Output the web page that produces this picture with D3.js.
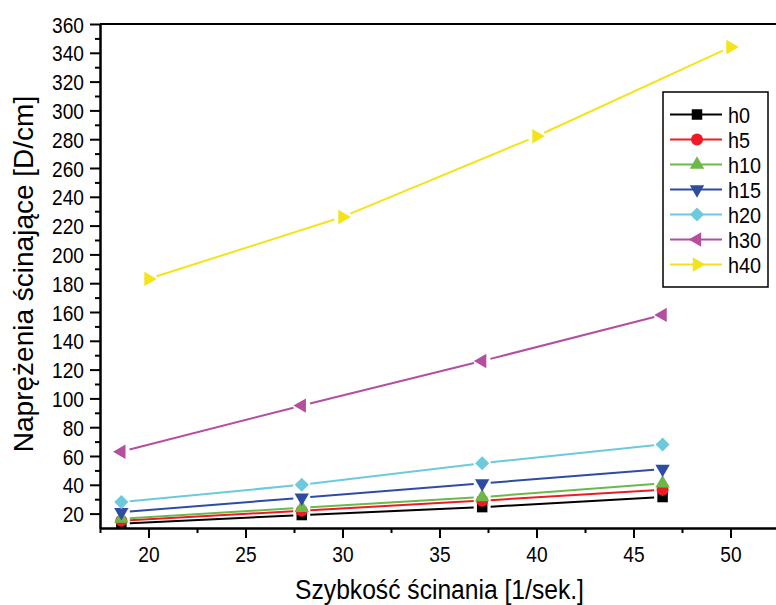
<!DOCTYPE html>
<html lang="pl">
<head>
<meta charset="UTF-8">
<title>Naprężenia ścinające</title>
<style>
  body { margin: 0; background: #fff; }
  svg text { font-family: "Liberation Sans", Arial, sans-serif; fill: #000; }
  .axis path, .axis line { stroke: #000; stroke-width: 2; }
</style>
</head>
<body>
<div id="chart"></div>
<script src="https://d3js.org/d3.v7.min.js"></script>
<script>
// shear rate values (x)
var shearRates = [18.6, 27.9, 37.2, 46.5];
var shearRatesH40 = [20, 30, 40, 50];

// shear stress values (y) per sample
var h0  = [13, 19, 24.5, 31.5];
var h5  = [15, 22, 29, 36.5];
var h10 = [16.5, 24, 31.5, 41];
var h15 = [21, 31, 41, 51];
var h20 = [28, 40, 55, 68];
var h30 = [63, 95, 126, 158];
var h40 = [183, 226, 282, 344];

var seriesNames  = ["h0", "h5", "h10", "h15", "h20", "h30", "h40"];
var seriesValues = [h0, h5, h10, h15, h20, h30, h40];
var seriesX      = [shearRates, shearRates, shearRates, shearRates, shearRates, shearRates, shearRatesH40];
var seriesColors = ["#000000", "#ed1c24", "#6cb94a", "#2f4da0", "#6ccadc", "#b44fa0", "#f5e31a"];
var seriesMarks  = ["square", "circle", "up", "down", "diamond", "left", "right"];

var yTicks = d3.range(20, 361, 20);
var xTicks = [20, 25, 30, 35, 40, 45, 50];

var width = 776, height = 605;
var margin = { top: 24, right: -3, bottom: 77, left: 100 };

var svg = d3.select("#chart").append("svg")
    .attr("width", width)
    .attr("height", height);

var x = d3.scaleLinear().domain([17.5, 52.5]).range([margin.left, width - margin.right]);
var y = d3.scaleLinear().domain([10, 360]).range([height - margin.bottom, margin.top]);

// top frame line
svg.append("line")
    .attr("x1", x(17.5)).attr("x2", x(52.5))
    .attr("y1", y(360)).attr("y2", y(360))
    .attr("stroke", "#000").attr("stroke-width", 2);

// minor ticks
svg.append("g").attr("class", "axis")
    .attr("transform", "translate(0," + y(10) + ")")
    .call(d3.axisBottom(x).tickValues(d3.range(17.5, 53, 5)).tickSize(5).tickSizeOuter(0).tickFormat(""));
svg.append("g").attr("class", "axis")
    .attr("transform", "translate(" + x(17.5) + ",0)")
    .call(d3.axisLeft(y).tickValues(d3.range(30, 360, 20)).tickSize(5).tickSizeOuter(0).tickFormat(""));

// major ticks
var xAxis = svg.append("g").attr("class", "axis")
    .attr("transform", "translate(0," + y(10) + ")")
    .call(d3.axisBottom(x).tickValues(xTicks).tickSize(10).tickSizeOuter(0));
var yAxis = svg.append("g").attr("class", "axis")
    .attr("transform", "translate(" + x(17.5) + ",0)")
    .call(d3.axisLeft(y).tickValues(yTicks).tickSize(10).tickSizeOuter(0));

xAxis.selectAll("text")
    .attr("font-size", 22).attr("y", 0).attr("dy", 0)
    .attr("transform", "translate(0,34) scale(0.87,1)");
yAxis.selectAll("text")
    .attr("font-size", 22).attr("x", 0).attr("dy", 0)
    .attr("transform", "translate(-16,8) scale(0.87,1)");

// axis titles
svg.append("text")
    .attr("transform", "translate(" + ((x(17.5) + x(52.5)) / 2) + ",599) scale(0.88,1)")
    .attr("text-anchor", "middle")
    .attr("font-size", 28)
    .text("Szybkość ścinania [1/sek.]");
svg.append("text")
    .attr("transform", "translate(33," + ((y(10) + y(360)) / 2 - 2) + ") rotate(-90)")
    .attr("text-anchor", "middle")
    .attr("font-size", 28)
    .text("Naprężenia ścinające [D/cm]");

// marker shapes
function markerPath(kind) {
    if (kind === "square") return d3.symbol(d3.symbolSquare, 110)();
    if (kind === "circle") return d3.symbol(d3.symbolCircle, 115)();
    if (kind === "diamond") return d3.symbol(d3.symbolSquare, 100)();
    return d3.symbol(d3.symbolTriangle, 90)();
}
function markerRotate(kind) {
    return { diamond: 45, up: 0, down: 180, left: -90, right: 90 }[kind] || 0;
}

// lines with small gaps around the markers
var gap = 8.5;
var plot = svg.append("g");
seriesNames.forEach(function(name, s) {
    var pts = seriesValues[s].map(function(v, i) { return [x(seriesX[s][i]), y(v)]; });
    var segs = [];
    for (var i = 0; i < pts.length - 1; i++) {
        var a = pts[i], b = pts[i + 1];
        var dx = b[0] - a[0], dy = b[1] - a[1], len = Math.sqrt(dx * dx + dy * dy);
        var ux = dx / len, uy = dy / len;
        segs.push([[a[0] + ux * gap, a[1] + uy * gap], [b[0] - ux * gap, b[1] - uy * gap]]);
    }
    plot.selectAll(".seg-" + name)
        .data(segs).enter().append("line")
        .attr("x1", function(d) { return d[0][0]; })
        .attr("y1", function(d) { return d[0][1]; })
        .attr("x2", function(d) { return d[1][0]; })
        .attr("y2", function(d) { return d[1][1]; })
        .attr("stroke", seriesColors[s])
        .attr("stroke-width", 2);
});
seriesNames.forEach(function(name, s) {
    plot.selectAll(".mk-" + name)
        .data(seriesValues[s]).enter().append("path")
        .attr("d", markerPath(seriesMarks[s]))
        .attr("transform", function(d, i) {
            return "translate(" + x(seriesX[s][i]) + "," + y(d) + ") rotate(" + markerRotate(seriesMarks[s]) + ")";
        })
        .attr("fill", seriesColors[s]);
});

// legend
var legend = svg.append("g");
legend.append("rect")
    .attr("x", 663).attr("y", 92)
    .attr("width", 105).attr("height", 195)
    .attr("fill", "#fff").attr("stroke", "#000").attr("stroke-width", 1.5);
seriesNames.forEach(function(name, s) {
    var ry = 114.5 + s * 25;
    var row = legend.append("g");
    row.append("line")
        .attr("x1", 670).attr("x2", 722).attr("y1", ry).attr("y2", ry)
        .attr("stroke", seriesColors[s]).attr("stroke-width", 2);
    row.append("path")
        .attr("d", markerPath(seriesMarks[s]))
        .attr("transform", "translate(697," + ry + ") rotate(" + markerRotate(seriesMarks[s]) + ")")
        .attr("fill", seriesColors[s]);
    row.append("text")
        .attr("transform", "translate(728," + (ry + 8) + ") scale(0.9,1)")
        .attr("font-size", 22)
        .text(name);
});
</script>
</body>
</html>
